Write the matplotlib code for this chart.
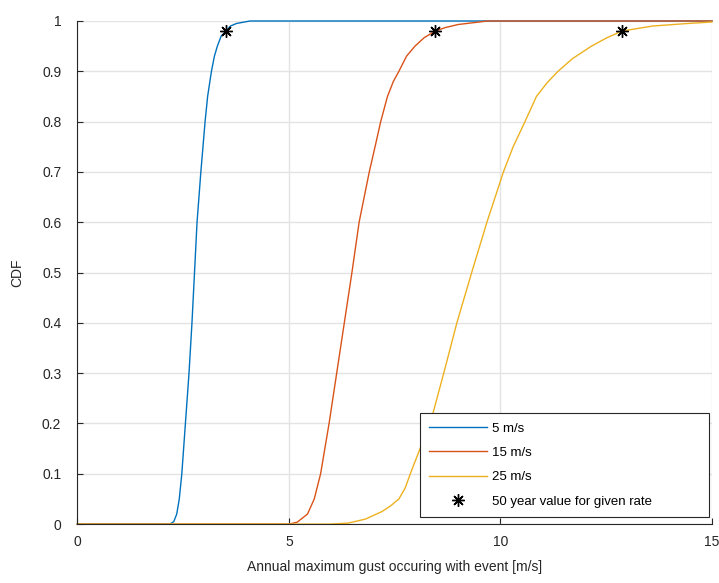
import matplotlib
matplotlib.use("Agg")
import matplotlib.pyplot as plt

plt.rcParams['font.family'] = ['Liberation Sans', 'DejaVu Sans']

# values
blue_x = [0, 2.19, 2.28, 2.35, 2.41, 2.47, 2.555, 2.64, 2.71, 2.77, 2.83, 2.92, 3.02, 3.08, 3.17, 3.24, 3.31, 3.40, 3.51, 3.62, 3.76, 4.08, 15]
blue_y = [0, 0, 0.005, 0.02, 0.05, 0.1, 0.2, 0.3, 0.4, 0.5, 0.6, 0.7, 0.8, 0.85, 0.9, 0.93, 0.95, 0.97, 0.98, 0.99, 0.995, 1.0, 1.0]

red_x = [0, 5.01, 5.2, 5.44, 5.6, 5.75, 5.95, 6.13, 6.31, 6.49, 6.66, 6.90, 7.05, 7.17, 7.33, 7.47, 7.60, 7.78, 7.98, 8.2, 8.46, 8.7, 9.0, 9.7, 15]
red_y = [0, 0, 0.004, 0.02, 0.05, 0.1, 0.2, 0.3, 0.4, 0.5, 0.6, 0.7, 0.755, 0.8, 0.85, 0.88, 0.9, 0.93, 0.95, 0.967, 0.98, 0.987, 0.993, 1.0, 1.0]

yel_x = [0, 5.95, 6.4, 6.81, 7.2, 7.4, 7.6, 7.75, 7.87, 8.1, 8.34, 8.66, 8.97, 9.32, 9.68, 10.07, 10.3, 10.58, 10.85, 11.1, 11.36, 11.7, 12.15, 12.5, 12.87, 13.6, 14.42, 15]
yel_y = [0, 0, 0.002, 0.01, 0.025, 0.036, 0.05, 0.072, 0.1, 0.15, 0.2, 0.3, 0.4, 0.5, 0.6, 0.7, 0.75, 0.8, 0.85, 0.877, 0.9, 0.925, 0.95, 0.966, 0.98, 0.99, 0.995, 0.998]

star_x = [3.51, 8.46, 12.87]
star_y = [0.98, 0.98, 0.98]

labels = ['5 m/s', '15 m/s', '25 m/s', '50 year value for given rate']

fig = plt.figure(figsize=(7.19, 5.83), dpi=100)
ax = fig.add_axes([0.1075, 0.101, 0.8828, 0.863])

ax.plot(blue_x, blue_y, color='#0072BD', lw=1.0, label=labels[0], clip_on=False)
ax.plot(red_x, red_y, color='#D95319', lw=1.0, label=labels[1], clip_on=False)
ax.plot(yel_x, yel_y, color='#EDB120', lw=1.0, label=labels[2], clip_on=False)
ax.plot(star_x, star_y, ls='none', marker=(8, 2, 0), ms=9, mew=1.0, color='k', label=labels[3])

ax.set_xlim(0, 15)
ax.set_ylim(0, 1)
ax.set_xticks([0, 5, 10, 15])
ax.set_yticks([i / 10 for i in range(11)])
ax.set_yticklabels(['0', '0.1', '0.2', '0.3', '0.4', '0.5', '0.6', '0.7', '0.8', '0.9', '1'])
ax.grid(True, color='#e3e3e3', lw=1.0)
ax.set_axisbelow(True)

for s in ['top', 'right']:
    ax.spines[s].set_visible(False)
for s in ['left', 'bottom']:
    ax.spines[s].set_color('#262626')
    ax.spines[s].set_linewidth(0.8)
ax.tick_params(direction='in', length=4, width=0.8, colors='#262626', labelsize=10)
ax.tick_params(axis='x', pad=8)
ax.tick_params(axis='y', pad=11.5)

ax.set_xlabel('Annual maximum gust occuring with event [m/s]', fontsize=10, color='#262626', labelpad=8)
ax.set_ylabel('CDF', fontsize=10, color='#262626', labelpad=13)

leg = ax.legend(loc='lower left', bbox_to_anchor=(0.54, 0.014, 0.455, 0.209), mode='expand',
                fontsize=9.5, handlelength=4.4, handletextpad=0.35, labelspacing=0.92,
                fancybox=False, framealpha=1, edgecolor='#262626', borderpad=0.7,
                borderaxespad=0.0)
leg.get_frame().set_linewidth(0.8)
leg._legend_box.align = 'left'

fig.savefig('out.png', dpi=100)
